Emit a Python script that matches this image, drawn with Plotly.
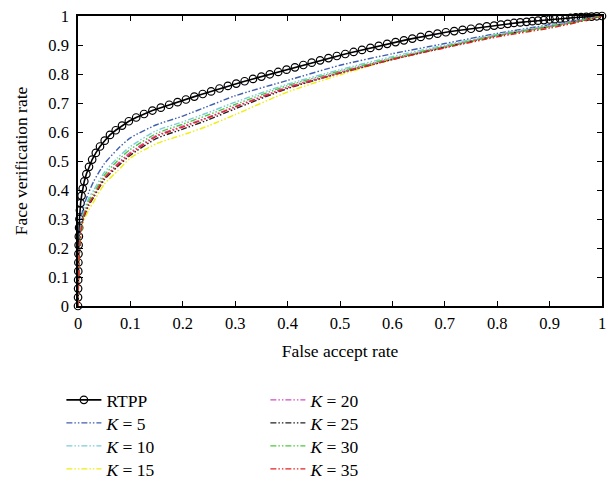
import plotly.graph_objects as go

# ---- data ----
rtpp_x = [0.0000, 0.0001, 0.0002, 0.0003, 0.0005, 0.0007, 0.0009, 0.0012, 0.0016, 0.0021,
          0.0028, 0.0037, 0.0050, 0.0068, 0.0090, 0.0120, 0.0160, 0.0210, 0.0270, 0.0340,
          0.0420, 0.0510, 0.0610, 0.0720, 0.0840, 0.0970, 0.1110, 0.1260, 0.1420, 0.1580,
          0.1740, 0.1900, 0.2060, 0.2220, 0.2380, 0.2540, 0.2700, 0.2860, 0.3020, 0.3180,
          0.3340, 0.3500, 0.3660, 0.3820, 0.3980, 0.4140, 0.4300, 0.4460, 0.4620, 0.4780,
          0.4940, 0.5100, 0.5260, 0.5420, 0.5580, 0.5740, 0.5900, 0.6060, 0.6220, 0.6380,
          0.6540, 0.6700, 0.6860, 0.7020, 0.7180, 0.7340, 0.7500, 0.7660, 0.7800, 0.7940,
          0.8070, 0.8200, 0.8320, 0.8440, 0.8560, 0.8670, 0.8780, 0.8890, 0.9000, 0.9100,
          0.9200, 0.9300, 0.9400, 0.9500, 0.9600, 0.9700, 0.9800, 0.9900, 1.0000]
rtpp_y = [0.00, 0.03, 0.06, 0.09, 0.12, 0.15, 0.18, 0.21, 0.24, 0.27,
          0.30, 0.33, 0.355, 0.38, 0.405, 0.43, 0.455, 0.48, 0.505, 0.528,
          0.55, 0.57, 0.59, 0.606, 0.622, 0.637, 0.650, 0.662, 0.674, 0.684,
          0.694, 0.703, 0.712, 0.722, 0.731, 0.740, 0.750, 0.759, 0.767, 0.775,
          0.783, 0.791, 0.799, 0.807, 0.815, 0.823, 0.831, 0.839, 0.847, 0.855,
          0.862, 0.869, 0.876, 0.883, 0.890, 0.897, 0.904, 0.910, 0.916, 0.922,
          0.928, 0.934, 0.939, 0.944, 0.948, 0.952, 0.956, 0.960, 0.964, 0.967,
          0.970, 0.973, 0.976, 0.978, 0.980, 0.982, 0.984, 0.986, 0.988, 0.989,
          0.991, 0.992, 0.994, 0.995, 0.996, 0.997, 0.998, 0.999, 1.000]

far = [0, 0.0005, 0.001, 0.002, 0.004, 0.007, 0.01, 0.02, 0.03, 0.05, 0.075, 0.1,
       0.15, 0.2, 0.25, 0.3, 0.4, 0.5, 0.6, 0.7, 0.8, 0.9, 0.95, 1.0]
k5 = [0, 0.07, 0.12, 0.19, 0.26, 0.31, 0.34, 0.39, 0.43, 0.49, 0.54, 0.58,
      0.625, 0.655, 0.69, 0.725, 0.778, 0.83, 0.87, 0.905, 0.94, 0.97, 0.985, 1]
k10 = [0, 0.06, 0.11, 0.17, 0.24, 0.29, 0.32, 0.37, 0.40, 0.46, 0.51, 0.55,
       0.605, 0.635, 0.668, 0.703, 0.765, 0.815, 0.86, 0.90, 0.937, 0.967, 0.983, 1]
k15 = [0, 0.05, 0.09, 0.15, 0.21, 0.26, 0.29, 0.33, 0.36, 0.42, 0.465, 0.51,
       0.56, 0.59, 0.622, 0.66, 0.738, 0.797, 0.85, 0.893, 0.932, 0.963, 0.98, 1]
k20 = [0, 0.055, 0.10, 0.16, 0.225, 0.275, 0.305, 0.35, 0.38, 0.44, 0.49, 0.53,
       0.588, 0.62, 0.652, 0.688, 0.755, 0.807, 0.853, 0.895, 0.933, 0.964, 0.981, 1]
k25 = [0, 0.055, 0.10, 0.16, 0.22, 0.27, 0.30, 0.345, 0.375, 0.435, 0.48, 0.52,
       0.578, 0.61, 0.643, 0.68, 0.75, 0.803, 0.85, 0.892, 0.932, 0.963, 0.98, 1]
k30 = [0, 0.06, 0.105, 0.165, 0.23, 0.28, 0.31, 0.36, 0.39, 0.45, 0.50, 0.54,
       0.595, 0.627, 0.66, 0.695, 0.76, 0.81, 0.855, 0.895, 0.933, 0.963, 0.98, 1]
k35 = [0, 0.055, 0.10, 0.16, 0.225, 0.275, 0.305, 0.35, 0.38, 0.44, 0.485, 0.525,
       0.585, 0.617, 0.65, 0.686, 0.752, 0.803, 0.85, 0.89, 0.928, 0.958, 0.977, 1]

k_names = ["<i>K</i> = 5", "<i>K</i> = 10", "<i>K</i> = 15", "<i>K</i> = 20",
           "<i>K</i> = 25", "<i>K</i> = 30", "<i>K</i> = 35"]
k_values = [k5, k10, k15, k20, k25, k30, k35]
k_colors = ["#3f5fae", "#7ccbdc", "#eeee10", "#d24cc4", "#222222", "#4cc83a", "#e52222"]

FONT = "Liberation Serif"
DASH = "6px,2px,1.5px,2px,1.5px,2px"

# legend slots: (x in paper units, y centre in paper units), two columns of four rows
col_x = [-0.0317, 0.3576]
row_y = [-0.3241, -0.4034, -0.4828, -0.5621]
legend_names = ["legend"] + [f"legend{i}" for i in range(2, 9)]
slots = [(col_x[0], row_y[r]) for r in range(4)] + [(col_x[1], row_y[r]) for r in range(4)]

fig = go.Figure()
fig.add_trace(go.Scatter(
    x=rtpp_x, y=rtpp_y, mode="lines+markers", name="RTPP",
    line=dict(color="black", width=1.6),
    marker=dict(symbol="circle-open", size=7.5, color="black", line=dict(width=1.2)),
    legend=legend_names[0], cliponaxis=False,
))
for i, (name, ys, col) in enumerate(zip(k_names, k_values, k_colors)):
    fig.add_trace(go.Scatter(
        x=far, y=ys, mode="lines", name=name, legend=legend_names[i + 1],
        line=dict(color=col, width=1.4, dash=DASH, shape="spline", smoothing=0.6),
    ))

axis_common = dict(
    range=[0, 1], dtick=0.1, ticks="inside", ticklen=5, tickwidth=1,
    showline=True, linecolor="black", linewidth=1.6, mirror="ticks",
    showgrid=False, zeroline=False, tickcolor="black", ticklabeloverflow="allow",
    tickfont=dict(family=FONT, size=16.5, color="black"),
)

legend_common = dict(
    orientation="v", xanchor="left", yanchor="middle",
    font=dict(family=FONT, size=17.5, color="black"),
    bgcolor="rgba(0,0,0,0)", tracegroupgap=0, itemwidth=35,
)
legends = {}
for lname, (lx, ly) in zip(legend_names, slots):
    legends[lname] = dict(**legend_common, x=lx, y=ly)

fig.update_layout(
    width=608, height=473,
    margin=dict(l=70, r=14, t=8, b=175, autoexpand=False),
    paper_bgcolor="white", plot_bgcolor="white",
    font=dict(family=FONT, color="black"),
    xaxis=dict(**axis_common, ticklabelstandoff=1,
               title=dict(text="False accept rate",
                          font=dict(family=FONT, size=17.5), standoff=13)),
    yaxis=dict(**axis_common, ticklabelstandoff=4,
               title=dict(text="Face verification rate",
                          font=dict(family=FONT, size=17.5), standoff=16)),
    showlegend=True,
    **legends,
)

fig.write_html("out.html")
